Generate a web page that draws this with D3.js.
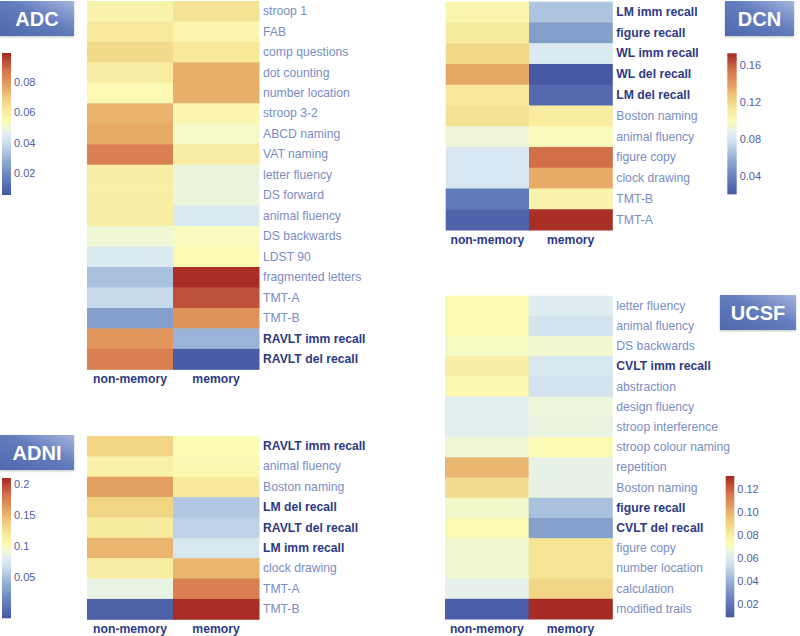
<!DOCTYPE html>
<html>
<head>
<meta charset="utf-8">
<script src="https://cdn.jsdelivr.net/npm/d3@7"></script>
<style>
  html, body { margin: 0; padding: 0; background: #fff; }
  svg { display: block; font-family: "Liberation Sans", Arial, Helvetica, sans-serif; }
</style>
</head>
<body>
<svg id="chart" width="800" height="636"></svg>
<script>
// ---------------- DATA ----------------
const columns = ["non-memory", "memory"];

const adcTests = ["stroop 1", "FAB", "comp questions", "dot counting", "number location", "stroop 3-2",
  "ABCD naming", "VAT naming", "letter fluency", "DS forward", "animal fluency", "DS backwards",
  "LDST 90", "fragmented letters", "TMT-A", "TMT-B", "RAVLT imm recall", "RAVLT del recall"];
const adcNonMemory = [0.057, 0.061, 0.066, 0.060, 0.055, 0.074, 0.076, 0.085, 0.059, 0.059, 0.059, 0.050,
  0.044, 0.033, 0.039, 0.025, 0.080, 0.085];
const adcMemory = [0.063, 0.056, 0.062, 0.075, 0.075, 0.056, 0.052, 0.060, 0.049, 0.049, 0.044, 0.053,
  0.055, 0.098, 0.093, 0.081, 0.030, 0.007];
const adcBold = ["RAVLT imm recall", "RAVLT del recall"];
const adcLegendTicks = [0.02, 0.04, 0.06, 0.08];
const adcLegendRange = [0.0055, 0.099];

const adniTests = ["RAVLT imm recall", "animal fluency", "Boston naming", "LM del recall", "RAVLT del recall",
  "LM imm recall", "clock drawing", "TMT-A", "TMT-B"];
const adniNonMemory = [0.133, 0.111, 0.160, 0.133, 0.117, 0.149, 0.115, 0.086, -0.010];
const adniMemory = [0.101, 0.104, 0.120, 0.054, 0.059, 0.074, 0.149, 0.176, 0.208];
const adniBold = ["RAVLT imm recall", "LM del recall", "RAVLT del recall", "LM imm recall"];
const adniLegendTicks = [0.05, 0.1, 0.15, 0.2];
const adniLegendRange = [-0.017, 0.21];

const dcnTests = ["LM imm recall", "figure recall", "WL imm recall", "WL del recall", "LM del recall",
  "Boston naming", "animal fluency", "figure copy", "clock drawing", "TMT-B", "TMT-A"];
const dcnNonMemory = [0.103, 0.110, 0.119, 0.136, 0.112, 0.115, 0.092, 0.081, 0.081, 0.035, 0.025];
const dcnMemory = [0.066, 0.051, 0.083, 0.020, 0.028, 0.109, 0.098, 0.155, 0.135, 0.104, 0.171];
const dcnBold = ["LM imm recall", "figure recall", "WL imm recall", "WL del recall", "LM del recall"];
const dcnLegendTicks = [0.04, 0.08, 0.12, 0.16];
const dcnLegendRange = [0.0199, 0.1726];

const ucsfTests = ["letter fluency", "animal fluency", "DS backwards", "CVLT imm recall", "abstraction",
  "design fluency", "stroop interference", "stroop colour naming", "repetition", "Boston naming",
  "figure recall", "CVLT del recall", "figure copy", "number location", "calculation", "modified trails"];
const ucsfNonMemory = [0.073, 0.073, 0.070, 0.079, 0.074, 0.062, 0.062, 0.067, 0.098, 0.087, 0.069, 0.073,
  0.068, 0.068, 0.063, 0.011];
const ucsfMemory = [0.061, 0.057, 0.068, 0.058, 0.056, 0.066, 0.065, 0.073, 0.064, 0.064, 0.045, 0.035,
  0.084, 0.084, 0.089, 0.131];
const ucsfBold = ["CVLT imm recall", "figure recall", "CVLT del recall"];
const ucsfLegendTicks = [0.02, 0.04, 0.06, 0.08, 0.10, 0.12];
const ucsfLegendRange = [0.0087, 0.1316];

// ---------------- STYLE ----------------
const paletteT = [0, 0.12, 0.25, 0.36, 0.43, 0.47, 0.52, 0.6, 0.68, 0.77, 0.88, 1];
const paletteC = ["#4657a4", "#6580bc", "#94aed4", "#c9dcec", "#e1eef3", "#eef6d8", "#fbfbb6", "#f7e99c",
  "#f0cd7e", "#e5a362", "#d4714a", "#a52823"];
const paletteScale = d3.scaleLinear().domain(paletteT).range(paletteC).interpolate(d3.interpolateRgb).clamp(true);
const interp = t => paletteScale(t);
const FONT = "'Liberation Sans', Arial, Helvetica, sans-serif";
const LABEL_COLOR = "#7a8dc4";
const BOLD_COLOR = "#2d3a85";
const TICK_COLOR = "#4f5fa6";

const svg = d3.select("#chart");
const defs = svg.append("defs");

const boxGrad = defs.append("linearGradient").attr("id", "boxGrad")
  .attr("x1", "0%").attr("y1", "100%").attr("x2", "100%").attr("y2", "0%");
boxGrad.append("stop").attr("offset", "0%").attr("stop-color", "#4f68ae");
boxGrad.append("stop").attr("offset", "55%").attr("stop-color", "#637cbd");
boxGrad.append("stop").attr("offset", "100%").attr("stop-color", "#a4b5dd");

const shadow = defs.append("filter").attr("id", "shadow").attr("x", "-10%").attr("y", "-10%").attr("width", "130%").attr("height", "140%");
shadow.append("feDropShadow").attr("dx", 0).attr("dy", 1).attr("stdDeviation", 1).attr("flood-color", "#000").attr("flood-opacity", 0.25);

const panels = [
  { name: "ADC", tests: adcTests, nm: adcNonMemory, m: adcMemory, bold: adcBold,
    ticks: adcLegendTicks, range: adcLegendRange, fmt: d3.format(".2f"),
    x: [87, 259], y: [1, 369.3],
    box: { x: 0, y: 1, w: 74, h: 35 },
    legend: { x: 2, w: 9, y0: 53, y1: 195 } },
  { name: "ADNI", tests: adniTests, nm: adniNonMemory, m: adniMemory, bold: adniBold,
    ticks: adniLegendTicks, range: adniLegendRange, fmt: d3.format(""),
    x: [87, 259], y: [436, 619.3],
    box: { x: 0, y: 435, w: 74, h: 35 },
    legend: { x: 2, w: 9, y0: 478, y1: 618.3 } },
  { name: "DCN", tests: dcnTests, nm: dcnNonMemory, m: dcnMemory, bold: dcnBold,
    ticks: dcnLegendTicks, range: dcnLegendRange, fmt: d3.format(".2f"),
    x: [445.7, 612.3], y: [1.7, 230],
    box: { x: 725, y: 1, w: 69, h: 35 },
    legend: { x: 727.3, w: 9.4, y0: 53.3, y1: 194.3 } },
  { name: "UCSF", tests: ucsfTests, nm: ucsfNonMemory, m: ucsfMemory, bold: ucsfBold,
    ticks: ucsfLegendTicks, range: ucsfLegendRange, fmt: d3.format(".2f"),
    x: [445, 612.3], y: [295.7, 619],
    box: { x: 720, y: 295, w: 76, h: 35 },
    legend: { x: 725.7, w: 8.6, y0: 476, y1: 617.3 } }
];

panels.forEach((p, pi) => {
  const g = svg.append("g").attr("class", "panel-" + p.name);
  const color = d3.scaleSequential(interp).domain(p.range);

  const xScale = d3.scaleBand().domain(columns).range(p.x).padding(0);
  const yScale = d3.scaleBand().domain(p.tests).range(p.y).padding(0);

  const cells = [];
  p.tests.forEach((t, i) => {
    cells.push({ test: t, col: "non-memory", v: p.nm[i] });
    cells.push({ test: t, col: "memory", v: p.m[i] });
  });

  g.selectAll("rect.cell").data(cells).join("rect")
    .attr("class", "cell")
    .attr("x", d => xScale(d.col))
    .attr("y", d => yScale(d.test))
    .attr("width", xScale.bandwidth() + 0.5)
    .attr("height", yScale.bandwidth() + 0.5)
    .attr("fill", d => color(d.v));

  // Row labels
  const yAxis = d3.axisRight(yScale).tickSize(0).tickPadding(4);
  const ya = g.append("g").attr("transform", `translate(${p.x[1]},0)`).call(yAxis);
  ya.select(".domain").remove();
  ya.selectAll("text")
    .attr("font-family", FONT)
    .attr("font-size", 12.2)
    .attr("font-weight", d => p.bold.includes(d) ? "bold" : "normal")
    .attr("fill", d => p.bold.includes(d) ? BOLD_COLOR : LABEL_COLOR);

  // Column labels
  const xAxis = d3.axisBottom(xScale).tickSize(0).tickPadding(5);
  const xa = g.append("g").attr("transform", `translate(0,${p.y[1]})`).call(xAxis);
  xa.select(".domain").remove();
  xa.selectAll("text")
    .attr("font-family", FONT)
    .attr("font-size", 12.2)
    .attr("font-weight", "bold")
    .attr("fill", BOLD_COLOR);

  // Title box
  const b = p.box;
  g.append("rect").attr("x", b.x).attr("y", b.y).attr("width", b.w).attr("height", b.h)
    .attr("fill", "url(#boxGrad)").attr("filter", "url(#shadow)");
  g.append("text").attr("x", b.x + b.w / 2).attr("y", b.y + b.h / 2)
    .attr("dy", "0.36em").attr("text-anchor", "middle")
    .attr("font-family", FONT).attr("font-size", 20).attr("font-weight", "bold")
    .attr("fill", "#fff").text(p.name);

  // Color legend
  const L = p.legend;
  const gid = "legGrad" + pi;
  const lg = defs.append("linearGradient").attr("id", gid)
    .attr("x1", "0%").attr("y1", "100%").attr("x2", "0%").attr("y2", "0%");
  d3.range(0, 1.0001, 0.02).forEach(t => {
    lg.append("stop").attr("offset", (t * 100) + "%").attr("stop-color", interp(t));
  });
  g.append("rect").attr("x", L.x).attr("y", L.y0).attr("width", L.w).attr("height", L.y1 - L.y0)
    .attr("fill", `url(#${gid})`);
  const ls = d3.scaleLinear().domain(p.range).range([L.y1, L.y0]);
  const la = g.append("g").attr("transform", `translate(${L.x + L.w},0)`)
    .call(d3.axisRight(ls).tickValues(p.ticks).tickFormat(p.fmt).tickSize(0).tickPadding(3));
  la.select(".domain").remove();
  la.selectAll("text").attr("font-family", FONT).attr("font-size", 11).attr("fill", TICK_COLOR);
});
</script>
</body>
</html>
